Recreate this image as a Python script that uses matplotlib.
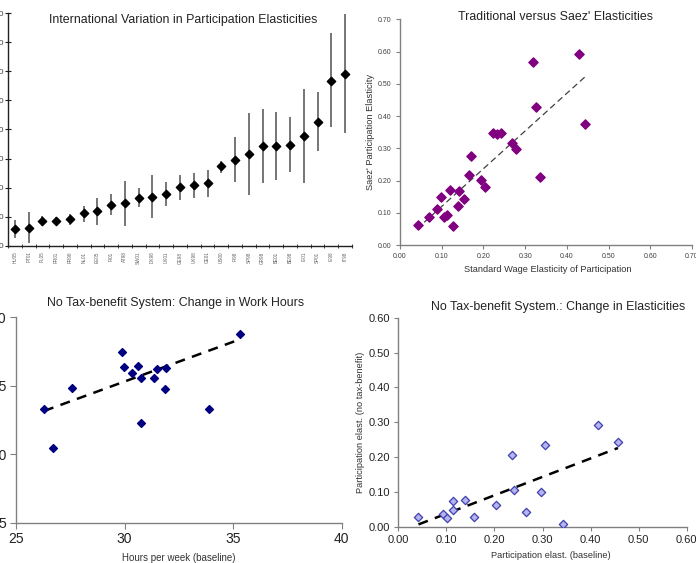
import matplotlib
matplotlib.use("Agg")
import matplotlib.pyplot as plt
import numpy as np

plt.rcParams['font.family'] = ['Liberation Sans', 'DejaVu Sans']

# ---------------- Panel 1: International variation ----------------
countries = ["HU05", "PT01", "PL05", "FR01", "FR98", "NL01", "EE05", "FI01", "AT98",
             "SW01", "DK98", "UK01", "GE98", "UK98", "GE01", "US00", "FI98", "SP98",
             "GR98", "BE01", "BE98", "IE01", "SP01", "IE98", "IT98"]
elast = [0.058, 0.063, 0.086, 0.087, 0.092, 0.112, 0.119, 0.142, 0.148,
         0.166, 0.168, 0.180, 0.202, 0.209, 0.215, 0.274, 0.296, 0.316,
         0.344, 0.345, 0.348, 0.377, 0.426, 0.568, 0.591]
elast_low = [0.027, 0.011, 0.070, 0.072, 0.072, 0.083, 0.072, 0.107, 0.069,
             0.134, 0.095, 0.137, 0.158, 0.164, 0.169, 0.252, 0.220, 0.175,
             0.215, 0.227, 0.254, 0.215, 0.325, 0.407, 0.389]
elast_high = [0.089, 0.116, 0.103, 0.100, 0.110, 0.137, 0.166, 0.178, 0.224,
              0.198, 0.244, 0.221, 0.244, 0.252, 0.261, 0.293, 0.373, 0.457,
              0.471, 0.460, 0.442, 0.538, 0.529, 0.730, 0.795]
p1_yticks = [0.0, 0.1, 0.2, 0.3, 0.4, 0.5, 0.6, 0.7, 0.8]

# ---------------- Panel 2: Traditional vs Saez ----------------
std_elast = [0.428, 0.320, 0.325, 0.444, 0.224, 0.232, 0.242, 0.269, 0.278, 0.336,
             0.171, 0.165, 0.193, 0.203, 0.121, 0.142, 0.099, 0.153, 0.089, 0.138,
             0.112, 0.106, 0.070, 0.042, 0.128]
saez_elast = [0.592, 0.568, 0.427, 0.376, 0.348, 0.344, 0.346, 0.317, 0.297, 0.210,
              0.275, 0.216, 0.202, 0.181, 0.170, 0.167, 0.148, 0.143, 0.113, 0.121,
              0.092, 0.088, 0.087, 0.063, 0.060]

# ---------------- Panel 3: change in work hours ----------------
hours_base = [35.32, 29.87, 29.97, 30.63, 30.36, 30.74, 31.48, 31.90, 31.36, 31.85,
              27.59, 26.29, 33.89, 30.77, 26.70]
hours_notax = [18.78, 17.49, 16.35, 16.45, 15.91, 15.59, 16.25, 16.32, 15.55, 14.79,
               14.86, 13.28, 13.33, 12.30, 10.43]
hours_trend_slope = 0.580      # trend line as shown in the reference
hours_trend_intercept = -2.09
p3_yticks = [5, 10, 15, 20]
p3_xticks = [25, 30, 35, 40]

# ---------------- Panel 4: change in elasticities ----------------
part_base = [0.416, 0.457, 0.305, 0.237, 0.241, 0.296, 0.265, 0.342, 0.204, 0.139,
             0.114, 0.114, 0.094, 0.101, 0.158, 0.042]
part_notax = [0.292, 0.244, 0.235, 0.207, 0.106, 0.100, 0.043, 0.009, 0.061, 0.077,
              0.073, 0.048, 0.037, 0.024, 0.029, 0.029]

W, H = 696, 563
fig = plt.figure(figsize=(W / 100, H / 100), dpi=100)

def box(x0, y0, x1, y1):
    return [x0 / W, 1 - y1 / H, (x1 - x0) / W, (y1 - y0) / H]

def ftext(x, y, s, **kw):
    fig.text(x / W, 1 - y / H, s, ha='center', va='center', **kw)

def style(ax, color='#808080'):
    for s in ['top', 'right']:
        ax.spines[s].set_visible(False)
    for s in ['left', 'bottom']:
        ax.spines[s].set_color(color)
        ax.spines[s].set_linewidth(1.0)

TITLE_FS = 8.9

# Panel 1
ax1 = fig.add_axes(box(8, 13, 352, 246))
style(ax1, '#202020')
xs = np.arange(len(countries))
ax1.vlines(xs, elast_low, elast_high, color='#505050', lw=1.1)
ax1.scatter(xs, elast, marker='D', s=18, color='black', zorder=3)
ax1.set_xlim(-0.5, len(countries) - 0.5)
ax1.set_ylim(0, 0.8)
ax1.set_yticks(p1_yticks)
ax1.set_yticklabels([f"{v:.2f}" for v in p1_yticks], fontsize=6, color='#404040')
ax1.set_xticks(xs)
ax1.set_xticklabels(countries, rotation=90, fontsize=3.3, color='#606060')
ax1.set_xticks(np.arange(len(countries) + 1) - 0.5, minor=True)
ax1.tick_params(axis='x', which='major', length=0, pad=4)
ax1.tick_params(axis='x', which='minor', length=3, direction='inout', color='#202020')
ax1.tick_params(axis='y', length=5, direction='inout', color='#202020', pad=0)
ftext(183, 20.5, "International Variation in Participation Elasticities", fontsize=TITLE_FS, color='#222222')

# Panel 2
ax2 = fig.add_axes(box(400, 19.3, 692, 245))
style(ax2)
ax2.scatter(std_elast, saez_elast, marker='D', s=22, color='#800080', zorder=3)
k, b = np.polyfit(std_elast, saez_elast, 1)
tx = np.array([min(std_elast) + 0.016, max(std_elast)])
ax2.plot(tx, k * tx + b, color='#404040', lw=0.9, dashes=(5, 3))
ticks2 = [0.0, 0.1, 0.2, 0.3, 0.4, 0.5, 0.6, 0.7]
ax2.set_xlim(0, 0.7)
ax2.set_ylim(0, 0.7)
ax2.set_xticks(ticks2)
ax2.set_yticks(ticks2)
ax2.set_xticklabels([f"{v:.2f}" for v in ticks2], fontsize=5, color='#404040')
ax2.set_yticklabels([f"{v:.2f}" for v in ticks2], fontsize=5, color='#404040')
ax2.tick_params(length=3, color='#808080', pad=3)
ftext(548, 269.5, "Standard Wage Elasticity of Participation", fontsize=6.7, color='#333333')
ftext(370, 132, "Saez' Participation Elasticity", fontsize=6.7, color='#333333', rotation=90)
ftext(556, 17.3, "Traditional versus Saez' Elasticities", fontsize=TITLE_FS, color='#222222')

# Panel 3
ax3 = fig.add_axes(box(16, 317.3, 341.7, 522.7))
style(ax3)
ax3.scatter(hours_base, hours_notax, marker='D', s=16, color='#000080', zorder=3)
tx3 = np.array([min(hours_base), max(hours_base)])
ax3.plot(tx3, hours_trend_slope * tx3 + hours_trend_intercept, color='black', lw=1.8, dashes=(4, 3))
ax3.set_xlim(25, 40)
ax3.set_ylim(5, 20)
ax3.set_xticks(p3_xticks)
ax3.set_yticks(p3_yticks)
ax3.tick_params(labelsize=10, length=4, color='#808080', pad=3, labelcolor='#222222')
ftext(179, 558, "Hours per week (baseline)", fontsize=7, color='#333333')
ftext(176, 303.3, "No Tax-benefit System: Change in Work Hours", fontsize=TITLE_FS, color='#222222')

# Panel 4
ax4 = fig.add_axes(box(398.3, 317.7, 686.7, 526.7))
style(ax4)
ax4.scatter(part_base, part_notax, marker='D', s=18, facecolor='#B4B4F0',
            edgecolor='#4040B0', linewidth=0.9, zorder=3)
k4, b4 = np.polyfit(part_base, part_notax, 1)
tx4 = np.array([min(part_base), max(part_base)])
ax4.plot(tx4, k4 * tx4 + b4, color='black', lw=1.8, dashes=(4, 3))
ticks4x = [0.0, 0.1, 0.2, 0.3, 0.4, 0.5, 0.6]
ax4.set_xlim(0, 0.6)
ax4.set_ylim(0, 0.6)
ax4.set_xticks(ticks4x)
ax4.set_yticks(ticks4x)
ax4.set_xticklabels([f"{v:.2f}" for v in ticks4x])
ax4.set_yticklabels([f"{v:.2f}" for v in ticks4x])
ax4.tick_params(labelsize=8, length=3, color='#808080', pad=3, labelcolor='#222222')
ftext(551, 555, "Participation elast. (baseline)", fontsize=6.7, color='#333333')
ftext(360.5, 422, "Participation elast. (no tax-benefit)", fontsize=6.7, color='#333333', rotation=90)
ftext(558, 306.7, "No Tax-benefit System.: Change in Elasticities", fontsize=TITLE_FS, color='#222222')

fig.savefig("out.png", dpi=100)
